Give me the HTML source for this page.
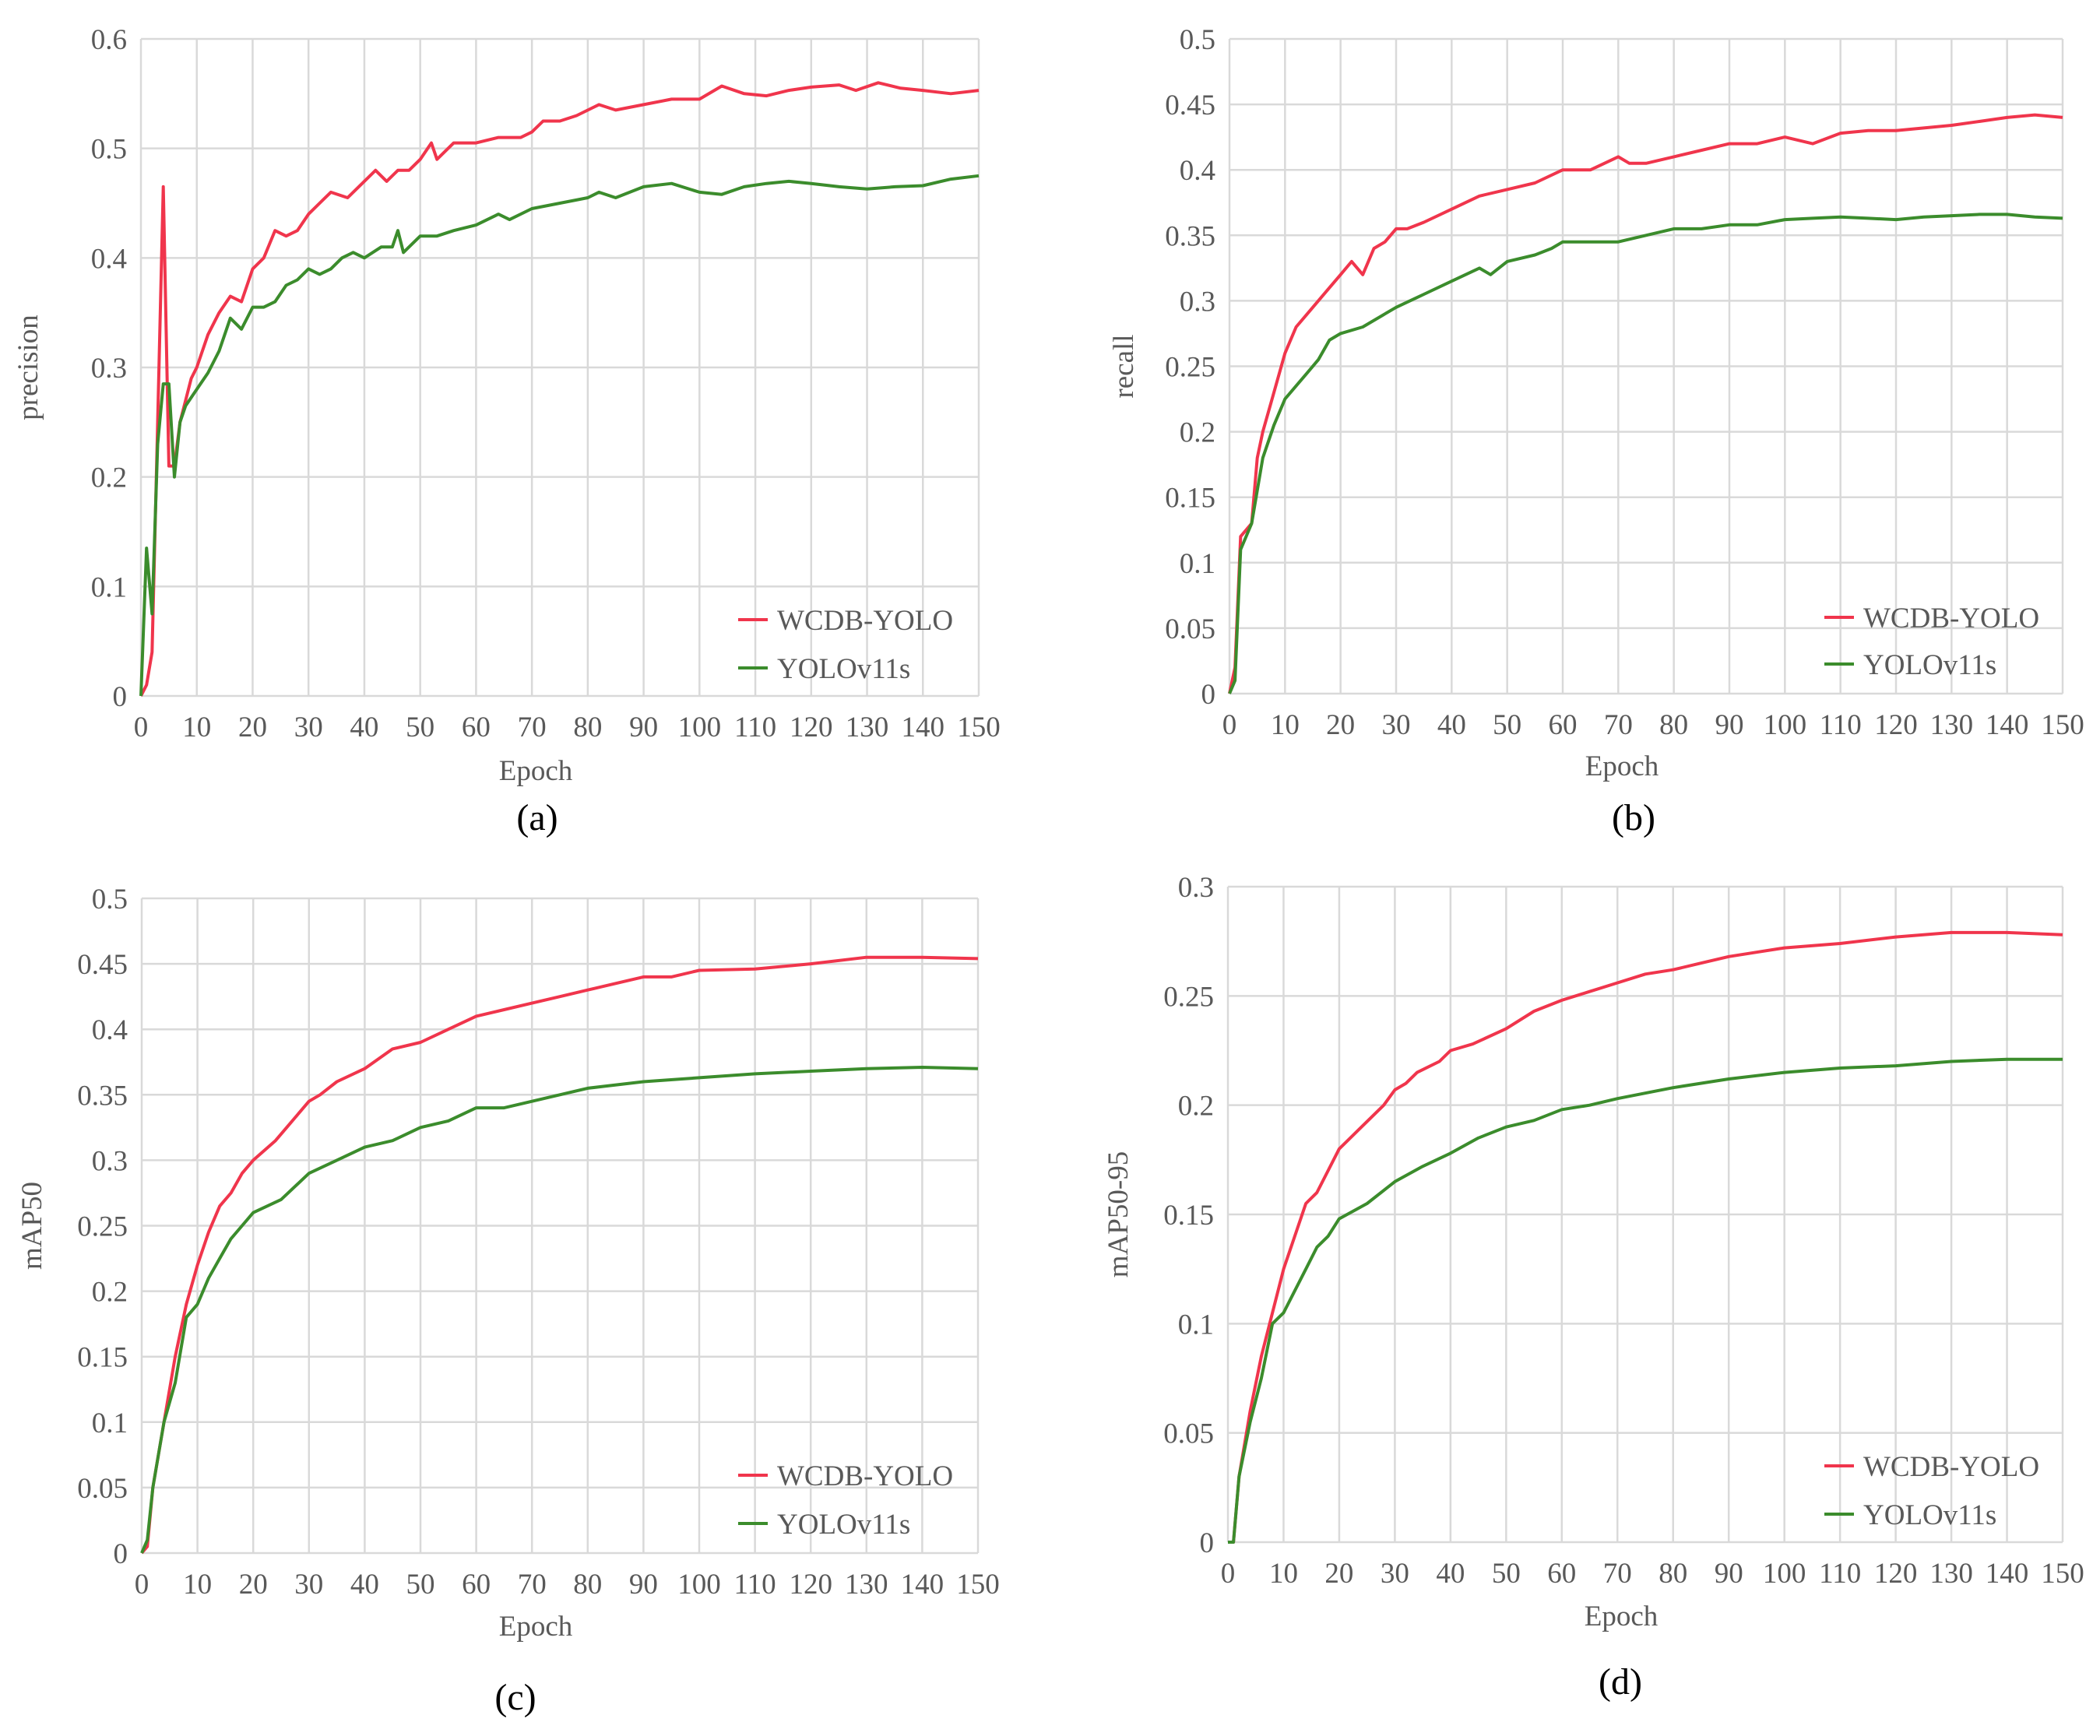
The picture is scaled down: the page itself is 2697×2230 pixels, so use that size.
<!DOCTYPE html>
<html><head><meta charset="utf-8"><style>
html,body{margin:0;padding:0;background:#fff;}
svg{display:block;}
text{font-family:"Liberation Serif",serif;fill:#595959;}
</style></head><body>
<svg id="fig" width="2697" height="2230" viewBox="0 0 2697 2230" xmlns="http://www.w3.org/2000/svg"></svg>
<script>
const epochTicks=[0,10,20,30,40,50,60,70,80,90,100,110,120,130,140,150];
const seriesNames=["WCDB-YOLO","YOLOv11s"];
// (a) precision
const aRedE=[0,1,2,3,4,5,6,7,8,9,10,12,14,16,18,20,22,24,26,28,30,32,34,37,40,42,44,46,48,50,52,53,56,60,64,68,70,72,75,78,82,85,90,95,100,104,108,112,116,120,125,128,132,136,140,145,150];
const aRedV=[0,0.01,0.04,0.25,0.465,0.21,0.21,0.25,0.27,0.29,0.30,0.33,0.35,0.365,0.36,0.39,0.40,0.425,0.42,0.425,0.44,0.45,0.46,0.455,0.47,0.48,0.47,0.48,0.48,0.49,0.505,0.49,0.505,0.505,0.51,0.51,0.515,0.525,0.525,0.53,0.54,0.535,0.54,0.545,0.545,0.557,0.55,0.548,0.553,0.556,0.558,0.553,0.56,0.555,0.553,0.55,0.553];
const aGrnE=[0,1,2,3,4,5,6,7,8,10,12,14,16,18,20,22,24,26,28,30,32,34,36,38,40,43,45,46,47,50,53,56,60,64,66,70,75,80,82,85,90,95,100,104,108,112,116,120,125,130,135,140,145,150];
const aGrnV=[0,0.135,0.075,0.23,0.285,0.285,0.2,0.25,0.265,0.28,0.295,0.315,0.345,0.335,0.355,0.355,0.36,0.375,0.38,0.39,0.385,0.39,0.40,0.405,0.40,0.41,0.41,0.425,0.405,0.42,0.42,0.425,0.43,0.44,0.435,0.445,0.45,0.455,0.46,0.455,0.465,0.468,0.46,0.458,0.465,0.468,0.47,0.468,0.465,0.463,0.465,0.466,0.472,0.475];
const aTicks=[0,0.1,0.2,0.3,0.4,0.5,0.6];
// (b) recall
const bRedE=[0,1,2,4,5,6,8,10,12,14,16,18,20,22,24,26,28,30,32,35,40,45,50,55,60,65,70,72,75,80,85,90,95,100,105,110,115,120,125,130,135,140,145,150];
const bRedV=[0,0.02,0.12,0.13,0.18,0.2,0.23,0.26,0.28,0.29,0.30,0.31,0.32,0.33,0.32,0.34,0.345,0.355,0.355,0.36,0.37,0.38,0.385,0.39,0.40,0.40,0.41,0.405,0.405,0.41,0.415,0.42,0.42,0.425,0.42,0.428,0.43,0.43,0.432,0.434,0.437,0.44,0.442,0.44];
const bGrnE=[0,1,2,4,6,8,10,12,14,16,18,20,24,28,30,35,40,45,47,50,55,58,60,65,70,75,80,85,90,95,100,105,110,115,120,125,130,135,140,145,150];
const bGrnV=[0,0.01,0.11,0.13,0.18,0.205,0.225,0.235,0.245,0.255,0.27,0.275,0.28,0.29,0.295,0.305,0.315,0.325,0.32,0.33,0.335,0.34,0.345,0.345,0.345,0.35,0.355,0.355,0.358,0.358,0.362,0.363,0.364,0.363,0.362,0.364,0.365,0.366,0.366,0.364,0.363];
const bTicks=[0,0.05,0.1,0.15,0.2,0.25,0.3,0.35,0.4,0.45,0.5];
// (c) mAP50
const cRedE=[0,1,2,4,6,8,10,12,14,16,18,20,24,26,28,30,32,35,40,45,50,55,60,65,70,75,80,85,90,95,100,110,120,130,140,150];
const cRedV=[0,0.005,0.05,0.1,0.15,0.19,0.22,0.245,0.265,0.275,0.29,0.30,0.315,0.325,0.335,0.345,0.35,0.36,0.37,0.385,0.39,0.40,0.41,0.415,0.42,0.425,0.43,0.435,0.44,0.44,0.445,0.446,0.45,0.455,0.455,0.454];
const cGrnE=[0,1,2,4,6,8,10,12,14,16,18,20,25,30,35,40,45,50,55,60,65,70,75,80,90,100,110,120,130,140,150];
const cGrnV=[0,0.01,0.05,0.1,0.13,0.18,0.19,0.21,0.225,0.24,0.25,0.26,0.27,0.29,0.30,0.31,0.315,0.325,0.33,0.34,0.34,0.345,0.35,0.355,0.36,0.363,0.366,0.368,0.37,0.371,0.37];
const cTicks=[0,0.05,0.1,0.15,0.2,0.25,0.3,0.35,0.4,0.45,0.5];
// (d) mAP50-95
const dRedE=[0,1,2,4,6,8,10,12,14,16,18,20,24,26,28,30,32,34,38,40,44,50,55,60,65,70,75,80,85,90,95,100,110,120,130,140,150];
const dRedV=[0,0,0.03,0.06,0.085,0.105,0.125,0.14,0.155,0.16,0.17,0.18,0.19,0.195,0.2,0.207,0.21,0.215,0.22,0.225,0.228,0.235,0.243,0.248,0.252,0.256,0.26,0.262,0.265,0.268,0.27,0.272,0.274,0.277,0.279,0.279,0.278];
const dGrnE=[0,1,2,4,6,8,10,12,14,16,18,20,25,30,35,40,45,50,55,60,65,70,80,90,100,110,120,130,140,150];
const dGrnV=[0,0,0.03,0.055,0.075,0.1,0.105,0.115,0.125,0.135,0.14,0.148,0.155,0.165,0.172,0.178,0.185,0.19,0.193,0.198,0.2,0.203,0.208,0.212,0.215,0.217,0.218,0.22,0.221,0.221];
const dTicks=[0,0.05,0.1,0.15,0.2,0.25,0.3];

const NS="http://www.w3.org/2000/svg";
const svg=document.getElementById('fig');
function mk(tag,attrs,parent){const e=document.createElementNS(NS,tag);for(const k in attrs)e.setAttribute(k,attrs[k]);(parent||svg).appendChild(e);return e;}

function panel(p){
  const g=mk('g',{});
  
  
  const ymax=p.ticks[p.ticks.length-1];
  const sx=v=>p.x0+(v/150)*(p.x1-p.x0);
  const sy=v=>p.y1-(v/ymax)*(p.y1-p.y0);
  p.ticks.forEach(t=>{
    const l=mk('line',{x1:p.x0,x2:p.x1,y1:sy(t),y2:sy(t),stroke:'#d9d9d9','stroke-width':2.5},g);
    
    
    const tx=mk('text',{x:p.x0-18,y:sy(t)+13,'text-anchor':'end','font-size':37},g);
    
    
    tx.textContent=String(t);
  });
  epochTicks.forEach(t=>{
    const l=mk('line',{x1:sx(t),x2:sx(t),y1:p.y0,y2:p.y1,stroke:'#d9d9d9','stroke-width':2.5},g);
    
    
    const tx=mk('text',{x:sx(t),y:p.y1+52,'text-anchor':'middle','font-size':37},g);
    
    
    tx.textContent=String(t);
  });
  const xt=mk('text',{x:(p.x0+p.x1)/2-31,y:p.xtY,'text-anchor':'middle','font-size':37},g);
  
  
  xt.textContent='Epoch';
  const yc=(p.y0+p.y1)/2;
  const yt=mk('text',{x:p.ytX,y:yc,'text-anchor':'middle','font-size':37,transform:`rotate(-90 ${p.ytX} ${yc})`},g);
  
  
  yt.textContent=p.ylabel;
  const cap=mk('text',{x:p.capX,y:p.capY,'text-anchor':'middle','font-size':48,style:'fill:#000'},g);
  
  
  cap.textContent=p.cap;
  const colors=['#f0354c','#3b8c2c'];
  [[p.rE,p.rV],[p.gE,p.gV]].forEach((s,i)=>{
    const d=s[0].map((e,j)=>(j?'L':'M')+sx(e).toFixed(1)+','+sy(s[1][j]).toFixed(1)).join(' ');
    const path=mk('path',{d:d,fill:'none',stroke:colors[i],'stroke-width':4,'stroke-linejoin':'round'},g);
    
    
    const ly=p.legY[i];
    const ll=mk('line',{x1:p.legX,x2:p.legX+38,y1:ly,y2:ly,stroke:colors[i],'stroke-width':4},g);
    
    
    const lt=mk('text',{x:p.legX+50,y:ly+13,'font-size':37},g);
    
    
    lt.textContent=seriesNames[i];
  });
}
panel({id:'precision',x0:181,x1:1257,y0:50,y1:894,ticks:aTicks,rE:aRedE,rV:aRedV,gE:aGrnE,gV:aGrnV,ylabel:'precision',ytX:48,xtY:1002,capX:690,capY:1066,cap:'(a)',legX:948,legY:[796,858]});
panel({id:'recall',x0:1579,x1:2649,y0:50,y1:891,ticks:bTicks,rE:bRedE,rV:bRedV,gE:bGrnE,gV:bGrnV,ylabel:'recall',ytX:1455,xtY:996,capX:2098,capY:1066,cap:'(b)',legX:2343,legY:[793,853]});
panel({id:'map50',x0:182,x1:1256,y0:1154,y1:1995,ticks:cTicks,rE:cRedE,rV:cRedV,gE:cGrnE,gV:cGrnV,ylabel:'mAP50',ytX:53,xtY:2101,capX:662,capY:2196,cap:'(c)',legX:948,legY:[1895,1957]});
panel({id:'map50-95',x0:1577,x1:2649,y0:1139,y1:1981,ticks:dTicks,rE:dRedE,rV:dRedV,gE:dGrnE,gV:dGrnV,ylabel:'mAP50-95',ytX:1448,xtY:2088,capX:2081,capY:2176,cap:'(d)',legX:2343,legY:[1883,1945]});
</script>
</body></html>
